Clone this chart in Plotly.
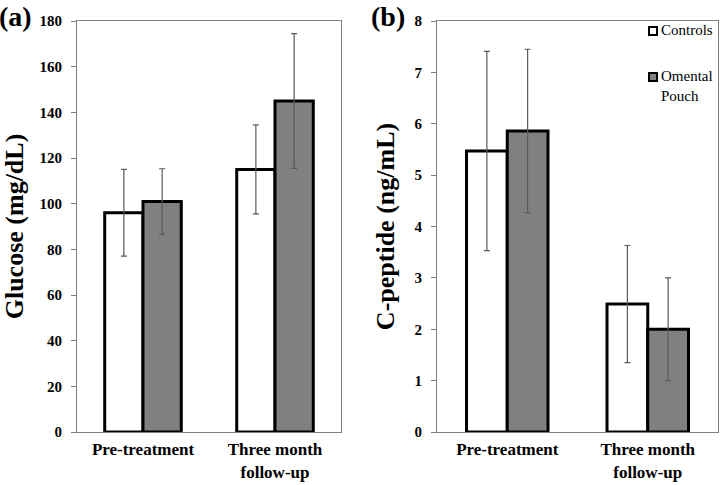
import plotly.graph_objects as go

categories = ["Pre-treatment", "Three month<br>follow-up"]
series_names = ["Controls", "Omental<br>Pouch"]

glucose_controls = [96, 115]
glucose_controls_err = [19, 19.5]
glucose_pouch = [101, 145]
glucose_pouch_err = [14.3, 29.5]

cpep_controls = [5.47, 2.49]
cpep_controls_err = [1.94, 1.14]
cpep_pouch = [5.86, 2.0]
cpep_pouch_err = [1.59, 1.0]

glucose_ticks = [0, 20, 40, 60, 80, 100, 120, 140, 160, 180]
cpep_ticks = [0, 1, 2, 3, 4, 5, 6, 7, 8]

SERIF = "Liberation Serif"
fills = ["white", "#808080"]
errcolor = "#5a5a5a"

fig = go.Figure()

panels = [
    ("x", "y", glucose_controls, glucose_controls_err, glucose_pouch, glucose_pouch_err),
    ("x2", "y2", cpep_controls, cpep_controls_err, cpep_pouch, cpep_pouch_err),
]
for xa, ya, c, ce, p, pe in panels:
    for i, (vals, errs) in enumerate([(c, ce), (p, pe)]):
        fig.add_trace(go.Bar(
            x=categories, y=vals, xaxis=xa, yaxis=ya,
            name=series_names[i], showlegend=False,
            marker=dict(color=fills[i], line=dict(color="black", width=3)),
            error_y=dict(type="data", array=errs, visible=True, color=errcolor,
                         thickness=1.2, width=3),
        ))

axis_common = dict(showline=True, linecolor="#808080", linewidth=1, mirror=True,
                   showgrid=False, zeroline=False, automargin=False)

# manual legend (inside panel b, top right)
legend_y = [1 - 31/485, 1 - 77/485]
shapes = []
annotations = []
for i, name in enumerate(series_names):
    cy = legend_y[i]
    shapes.append(dict(type="rect", xref="paper", yref="paper",
                       x0=649/720, x1=657/720, y0=cy - 4/485, y1=cy + 4/485,
                       fillcolor=fills[i], line=dict(color="black", width=2)))
    annotations.append(dict(text=name, xref="paper", yref="paper", x=660/720, y=cy + 10/485,
                            xanchor="left", yanchor="top", align="left", showarrow=False,
                            font=dict(size=15, family=SERIF), borderpad=0))

annotations += [
    dict(text="<b>(a)</b>", x=0, y=1, xref="paper", yref="paper", xanchor="left", yanchor="top",
         showarrow=False, font=dict(size=28, family=SERIF), xshift=-2, borderpad=0),
    dict(text="<b>(b)</b>", x=370/720, y=1, xref="paper", yref="paper", xanchor="left", yanchor="top",
         showarrow=False, font=dict(size=28, family=SERIF), borderpad=0),
]

fig.update_layout(
    width=720, height=485,
    margin=dict(l=0, r=0, t=0, b=0, autoexpand=False),
    paper_bgcolor="white", plot_bgcolor="white",
    barmode="group", bargap=0.42, bargroupgap=0,
    font=dict(family=SERIF, color="black"),
    xaxis=dict(domain=[77/720, 341/720], anchor="y", ticks="", ticklabelstandoff=2,
               tickfont=dict(size=17, family=SERIF, weight="bold"), **axis_common),
    yaxis=dict(domain=[1-432/485, 1-21/485], anchor="x", range=[0, 180],
               tickvals=glucose_ticks, ticks="outside", ticklen=5, tickcolor="#808080",
               ticklabelstandoff=6,
               tickfont=dict(size=15, family=SERIF, weight="bold"),
               title=dict(text="Glucose (mg/dL)", font=dict(size=26, family=SERIF, weight="bold"), standoff=18),
               **axis_common),
    xaxis2=dict(domain=[437/720, 718/720], anchor="y2", ticks="", ticklabelstandoff=2,
                tickfont=dict(size=17, family=SERIF, weight="bold"), **axis_common),
    yaxis2=dict(domain=[1-432/485, 1-21/485], anchor="x2", range=[0, 8],
                tickvals=cpep_ticks, ticks="outside", ticklen=5, tickcolor="#808080",
                ticklabelstandoff=6,
                tickfont=dict(size=15, family=SERIF, weight="bold"),
                title=dict(text="C-peptide (ng/mL)", font=dict(size=26, family=SERIF, weight="bold"), standoff=12),
                **axis_common),
    shapes=shapes,
    annotations=annotations,
)

fig.write_html("out.html", config={"displayModeBar": False},
               post_script="document.body.style.margin='0';document.body.style.overflow='hidden';")
